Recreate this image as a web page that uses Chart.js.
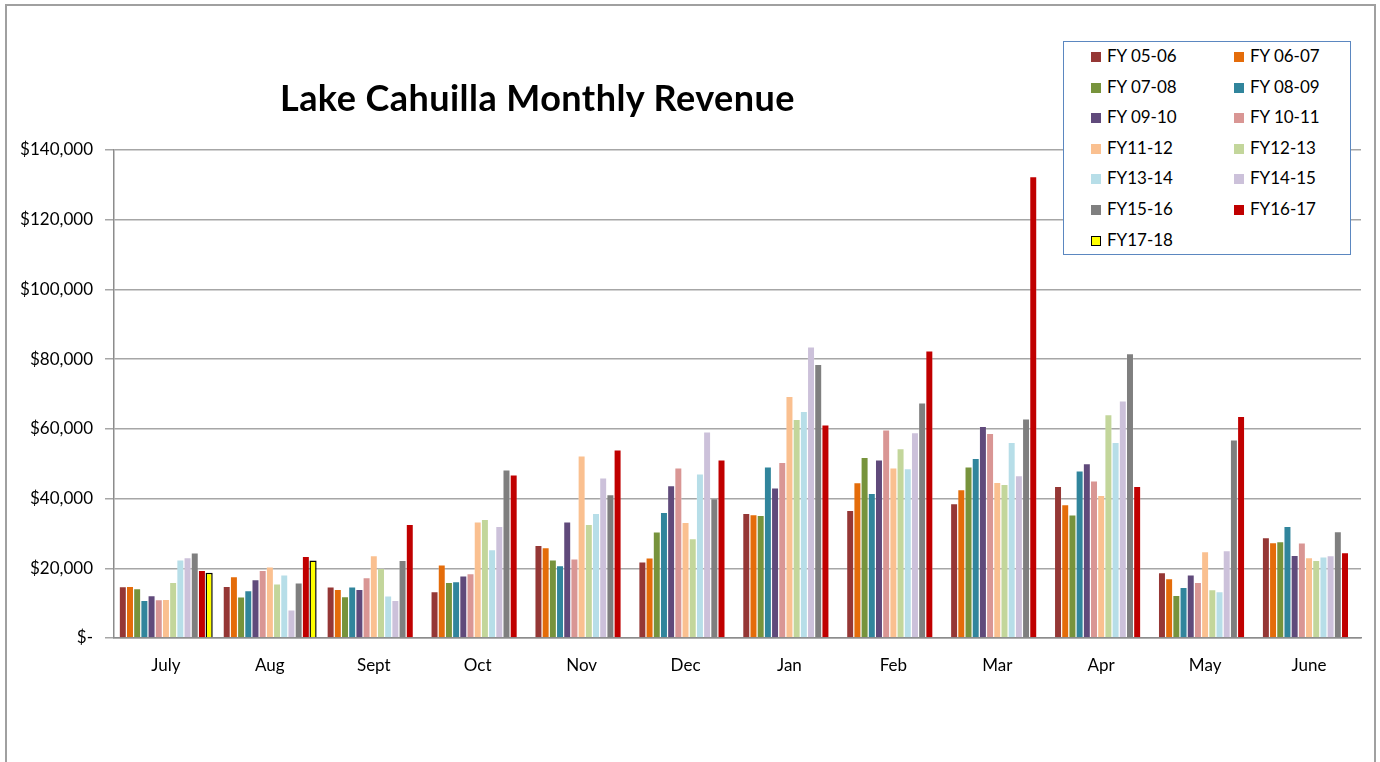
<!DOCTYPE html>
<html>
<head>
<meta charset="utf-8">
<script src="https://cdn.jsdelivr.net/npm/chart.js@4.4.1/dist/chart.umd.min.js"></script>
<style>
  html, body { margin: 0; padding: 0; background: #fff; }
  #wrap { position: relative; width: 1380px; height: 762px; overflow: hidden; }
  #frame { position: absolute; left: 5px; top: 4px; width: 1371px; height: 800px; border: 2px solid #a0a0a0; box-sizing: border-box; }
  #c { position: absolute; left: 0; top: 0; }
  #title { position: absolute; left: 280px; top: 76px; text-align: left; letter-spacing: 0.45px;
           font-family: Lato, "Open Sans", sans-serif; font-weight: bold; font-size: 36px; line-height: 42px; color: #000; white-space: nowrap; }
  #legend { position: absolute; left: 1063px; top: 41px; width: 288px; height: 214px; box-sizing: border-box;
            border: 1.5px solid #5b87c0; background: #fff; font-family: Lato, "Open Sans", sans-serif; font-size: 17px; color: #000; }
  .li { position: absolute; white-space: nowrap; line-height: 18px; }
  .sw { display: inline-block; width: 10px; height: 10px; margin-right: 6px; vertical-align: 0px; box-sizing: border-box; }
</style>
</head>
<body>
<div id="wrap">
  <div id="frame"></div>
  <canvas id="c" width="1380" height="762"></canvas>
  <div id="title">Lake Cahuilla Monthly Revenue</div>
  <div id="legend"></div>
</div>
<script>
const months = ["July","Aug","Sept","Oct","Nov","Dec","Jan","Feb","Mar","Apr","May","June"];
const seriesNames = ["FY 05-06","FY 06-07","FY 07-08","FY 08-09","FY 09-10","FY 10-11","FY11-12","FY12-13","FY13-14","FY14-15","FY15-16","FY16-17","FY17-18"];
const seriesColors = ["#953735","#E46C0A","#77933C","#31859C","#604A7B","#D99694","#FAC090","#C3D69B","#B7DEE8","#CCC1DA","#7F7F7F","#C00000","#FFFF00"];

const fy0506 = [14700,14800,14630,13280,26570,21800,35770,36630,38560,43520,18740,28780];
const fy0607 = [14800,17600,13970,20940,25900,22950,35380,44560,42570,38270,17010,27340];
const fy0708 = [14150,11760,11850,15980,22380,30410,35200,51840,49060,35290,12220,27630];
const fy0809 = [10800,13570,14630,16170,20740,36030,49060,41510,51550,47910,14520,32020];
const fy0910 = [12150,16730,13970,17790,33280,43690,43030,51070,60730,50030,18070,23700];
const fy1011 = [11000,19400,17300,18450,22670,48770,50410,59670,58720,45040,15950,27250];
const fy1112 = [11100,20370,23610,33280,52210,33170,69340,48770,44670,40940,24760,23040];
const fy1213 = [15950,15500,20000,34050,32590,28490,62740,54310,44100,64090,13860,22260];
const fy1314 = [22380,18070,12050,25330,35750,47050,65040,48570,56140,56140,13280,23240];
const fy1415 = [23040,8030,10820,32050,45900,59100,83490,58900,46590,67990,25050,23610];
const fy1516 = [24390,15780,22290,48200,41110,39960,78520,67420,62830,81590,56800,30500];
const fy1617 = [19400,23410,32620,46770,53940,51070,61110,82340,132370,43520,63570,24470];
const fy1718 = [18740,22260,null,null,null,null,null,null,null,null,null,null];

const seriesValues = [fy0506,fy0607,fy0708,fy0809,fy0910,fy1011,fy1112,fy1213,fy1314,fy1415,fy1516,fy1617,fy1718];
const yTicks = [0,20000,40000,60000,80000,100000,120000,140000];

const datasets = seriesNames.map((name, i) => ({
  label: name,
  data: seriesValues[i],
  backgroundColor: seriesColors[i],
  borderColor: i === 12 ? "#000000" : "rgba(255,255,255,0.35)",
  borderWidth: i === 12 ? 1.5 : 0.6,
  categoryPercentage: 0.9,
  barPercentage: 1.0
}));

const FONT = "Lato, 'Open Sans', sans-serif";

new Chart(document.getElementById("c"), {
  type: "bar",
  data: { labels: months, datasets },
  options: {
    responsive: false,
    animation: false,
    devicePixelRatio: 1,
    layout: { padding: { left: 0, right: 19, top: 150, bottom: 0 } },
    plugins: { legend: { display: false }, title: { display: false }, tooltip: { enabled: false } },
    scales: {
      x: {
        grid: { display: false, drawTicks: false },
        border: { display: true, color: "#8c8c8c", width: 1.5 },
        ticks: { color: "#000", font: { family: FONT, size: 17 }, padding: 17, maxRotation: 0 },
        afterFit: (s) => { s.height = 124; }
      },
      y: {
        min: 0, max: 140000,
        afterBuildTicks: (s) => { s.ticks = yTicks.map(v => ({ value: v })); },
        grid: { color: "#a6a6a6", lineWidth: 1.5, tickLength: 9, drawTicks: true },
        border: { display: true, color: "#8c8c8c", width: 1.5 },
        ticks: {
          color: "#000", font: { family: FONT, size: 17 }, padding: 12,
          callback: (v) => v === 0 ? "$-" : "$" + v.toLocaleString("en-US")
        },
        afterFit: (s) => { s.width = 114; }
      }
    }
  }
});

// HTML legend built from the series arrays
const leg = document.getElementById("legend");
seriesNames.forEach((name, i) => {
  const col = i % 2, row = Math.floor(i / 2);
  const d = document.createElement("div");
  d.className = "li";
  d.style.left = (col === 0 ? 27 : 170) + "px";
  d.style.top = (5 + row * 30.6) + "px";
  const sw = document.createElement("span");
  sw.className = "sw";
  sw.style.background = seriesColors[i];
  if (i === 12) sw.style.border = "1.5px solid #000";
  d.appendChild(sw);
  d.appendChild(document.createTextNode(name));
  leg.appendChild(d);
});
</script>
</body>
</html>
